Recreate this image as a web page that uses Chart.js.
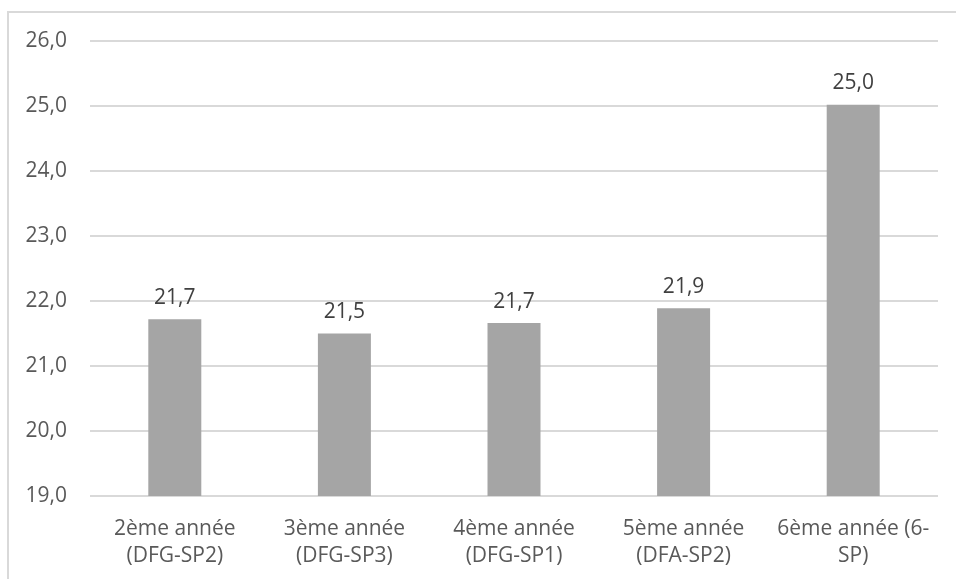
<!DOCTYPE html>
<html lang="fr">
<head>
    <meta charset="UTF-8">
    <title>Moyenne par année</title>
    <script src="https://cdn.jsdelivr.net/npm/chart.js"></script>
    <style>
        body { margin: 0; width: 956px; height: 579px; overflow: hidden; background: #fff; }
        #frame { position: absolute; left: 7px; top: 11px; width: 960px; height: 600px;
                 border-left: 2px solid #d9d9d9; border-top: 2px solid #d9d9d9; }
        #wrap { position: absolute; left: 0; top: 0; width: 956px; height: 579px; }
    </style>
</head>
<body>
    <div id="frame"></div>
    <div id="wrap"><canvas id="barChart"></canvas></div>
    <script>
        const categories = [
            ['2ème année', '(DFG-SP2)'],
            ['3ème année', '(DFG-SP3)'],
            ['4ème année', '(DFG-SP1)'],
            ['5ème année', '(DFA-SP2)'],
            ['6ème année (6-', 'SP)']
        ];
        const values = [21.72, 21.50, 21.66, 21.89, 25.02];
        const yMin = 19;
        const yMax = 26;

        const fmt = v => v.toFixed(1).replace('.', ',');

        // value labels above each bar
        const valueLabels = {
            id: 'valueLabels',
            afterDatasetsDraw(chart) {
                const ctx = chart.ctx;
                const meta = chart.getDatasetMeta(0);
                ctx.save();
                ctx.font = '21px "Open Sans"';
                ctx.fillStyle = '#404040';
                ctx.textAlign = 'center';
                ctx.textBaseline = 'bottom';
                meta.data.forEach((bar, i) => {
                    ctx.fillText(fmt(values[i]), bar.x, bar.y - 11);
                });
                ctx.restore();
            }
        };

        const ctx = document.getElementById('barChart').getContext('2d');
        new Chart(ctx, {
            type: 'bar',
            data: {
                labels: categories,
                datasets: [{
                    data: values,
                    backgroundColor: '#a5a5a5',
                    barPercentage: 0.3125,
                    categoryPercentage: 1
                }]
            },
            options: {
                responsive: true,
                maintainAspectRatio: false,
                animation: false,
                layout: { padding: { top: 41, right: 18, left: 0, bottom: 0 } },
                plugins: { legend: { display: false }, tooltip: { enabled: false } },
                scales: {
                    x: {
                        grid: { display: false, drawTicks: false },
                        border: { display: false },
                        ticks: {
                            color: '#595959',
                            font: { family: 'Open Sans', size: 21, lineHeight: 1.3 },
                            padding: 19,
                            maxRotation: 0
                        },
                        afterFit(scale) { scale.height = 83; }
                    },
                    y: {
                        min: yMin,
                        max: yMax,
                        grid: { color: '#d9d9d9', lineWidth: 2, drawTicks: false },
                        border: { display: false },
                        ticks: {
                            stepSize: 1,
                            color: '#595959',
                            font: { family: 'Open Sans', size: 21 },
                            padding: 23,
                            callback: v => fmt(v)
                        },
                        afterFit(scale) { scale.width = 90; }
                    }
                }
            },
            plugins: [valueLabels]
        });
    </script>
</body>
</html>
